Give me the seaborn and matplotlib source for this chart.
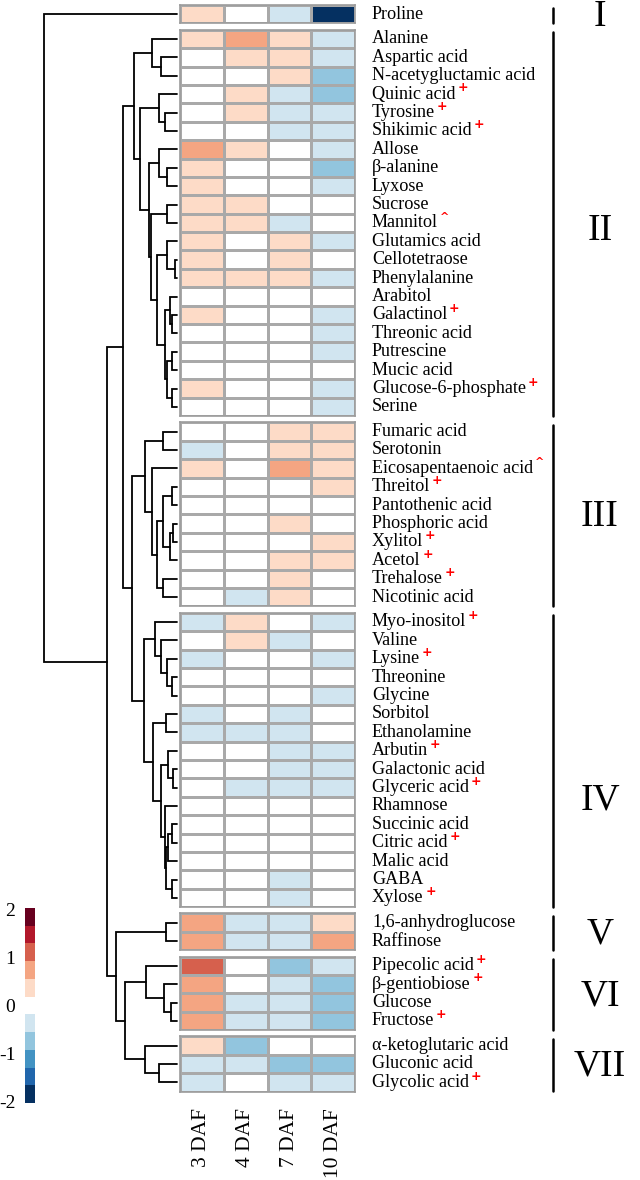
import numpy as np
import pandas as pd
import matplotlib
matplotlib.use("Agg")
import matplotlib.pyplot as plt
from matplotlib.colors import ListedColormap
import seaborn as sns

# ---- data ----
metabolites = ['Proline',
    'Alanine', 'Aspartic acid', 'N-acetygluctamic acid', 'Quinic acid', 'Tyrosine',
    'Shikimic acid', 'Allose', 'β-alanine', 'Lyxose', 'Sucrose', 'Mannitol',
    'Glutamics acid', 'Cellotetraose', 'Phenylalanine', 'Arabitol', 'Galactinol',
    'Threonic acid', 'Putrescine', 'Mucic acid', 'Glucose-6-phosphate', 'Serine',
    'Fumaric acid', 'Serotonin', 'Eicosapentaenoic acid', 'Threitol', 'Pantothenic acid',
    'Phosphoric acid', 'Xylitol', 'Acetol', 'Trehalose', 'Nicotinic acid',
    'Myo-inositol', 'Valine', 'Lysine', 'Threonine', 'Glycine', 'Sorbitol',
    'Ethanolamine', 'Arbutin', 'Galactonic acid', 'Glyceric acid', 'Rhamnose',
    'Succinic acid', 'Citric acid', 'Malic acid', 'GABA', 'Xylose',
    '1,6-anhydroglucose', 'Raffinose',
    'Pipecolic acid', 'β-gentiobiose', 'Glucose', 'Fructose',
    'α-ketoglutaric acid', 'Gluconic acid', 'Glycolic acid']

marks = {'Quinic acid': '+', 'Tyrosine': '+', 'Shikimic acid': '+', 'Mannitol': '^',
         'Galactinol': '+', 'Glucose-6-phosphate': '+', 'Eicosapentaenoic acid': '^',
         'Threitol': '+', 'Xylitol': '+', 'Acetol': '+', 'Trehalose': '+',
         'Myo-inositol': '+', 'Lysine': '+', 'Arbutin': '+', 'Glyceric acid': '+',
         'Citric acid': '+', 'Xylose': '+', 'Pipecolic acid': '+', 'β-gentiobiose': '+',
         'Fructose': '+', 'Glycolic acid': '+'}

days = ['3 DAF', '4 DAF', '7 DAF', '10 DAF']

daf3 = [.4,
        .4, 0, 0, 0, 0, 0, .8, .4, .4, .4, .4, .4, .4, .4, 0, .4, 0, 0, 0, .4, 0,
        0, -.4, .4, 0, 0, 0, 0, 0, 0, 0,
        -.4, 0, -.4, 0, 0, -.4, -.4, 0, 0, 0, 0, 0, 0, 0, 0, 0,
        .8, .8,
        1.2, .8, .8, .8,
        .4, -.4, -.4]
daf4 = [0,
        .8, .4, 0, .4, .4, 0, .4, 0, 0, .4, .4, 0, 0, .4, 0, 0, 0, 0, 0, 0, 0,
        0, 0, 0, 0, 0, 0, 0, 0, 0, -.4,
        .4, .4, 0, 0, 0, 0, -.4, 0, 0, -.4, 0, 0, 0, 0, 0, 0,
        -.4, -.4,
        0, 0, -.4, -.4,
        -.8, -.4, 0]
daf7 = [-.4,
        .4, .4, .4, -.4, -.4, -.4, 0, 0, 0, 0, -.4, .4, .4, .4, 0, 0, 0, 0, 0, 0, 0,
        .4, .4, .8, 0, 0, .4, 0, .4, .4, .4,
        0, -.4, 0, 0, 0, -.4, -.4, -.4, -.4, -.4, 0, 0, 0, 0, -.4, -.4,
        -.4, -.4,
        -.8, -.4, -.4, -.4,
        0, -.8, -.4]
daf10 = [-2,
         -.4, -.4, -.8, -.8, -.4, -.4, -.4, -.8, -.4, 0, 0, -.4, 0, -.4, 0, -.4, -.4, -.4, 0, -.4, -.4,
         .4, .4, .4, .4, 0, 0, .4, .4, 0, 0,
         -.4, 0, -.4, 0, -.4, 0, 0, -.4, -.4, -.4, 0, 0, 0, 0, 0, 0,
         .4, .8,
         -.4, -.8, -.8, -.8,
         0, -.8, -.4]

group_sizes = [1, 21, 10, 16, 2, 4, 3]
group_names = ['I', 'II', 'III', 'IV', 'V', 'VI', 'VII']

# dendrogram: (left, right, merge height), leaves are row numbers
tree_II = ((1, (2, 3, 16), 25),
           ((4, (5, 6, 12), 18),
            ((7, (8, 9, 10), 18),
             ((10, 11, 10),
              ((12, (13, 14, 2), 10),
               ((15, (16, 17, 5), 7), ((18, 19, 5), (20, 21, 5), 10), 12), 20), 26), 28), 37), 43)
tree_III = ((22, 23, 14),
            (24, (((25, 26, 5), ((27, 28, 4), 29, 7), 14), (30, 31, 14), 20), 25), 32)
tree_IV = ((32, (33, (34, (35, 36, 5), 10), 16), 22),
           ((37, 38, 11),
            ((39, (40, 41, 4), 9), (42, (((43, 44, 5), 45, 9), (46, 47, 5), 11), 12), 16), 24), 33)
tree_V = (48, 49, 11)
tree_VI = (50, (51, (52, 53, 6), 13), 31)
tree_VII = (54, (55, 56, 18), 32)
tree = (0, ((tree_II, (tree_III, tree_IV, 45), 54),
            (tree_V, (tree_VI, tree_VII, 52), 61), 70), 133)

# ---- style ----
sns.set_style('white')
plt.rcParams['font.family'] = ['Liberation Serif', 'DejaVu Serif']
plt.rcParams['axes.unicode_minus'] = False
plt.rcParams['text.color'] = 'black'
plt.rcParams['xtick.color'] = 'black'
plt.rcParams['ytick.color'] = 'black'

colors = ['#053061', '#2166ac', '#4393c3', '#92c5de', '#d1e5f0', '#ffffff',
          '#fddbc7', '#f4a582', '#d6604d', '#b2182b', '#67001f']
cmap = ListedColormap(colors)
vlim = 2.03

df = pd.DataFrame({'3 DAF': daf3, '4 DAF': daf4, '7 DAF': daf7, '10 DAF': daf10},
                  index=metabolites)

W, H = 640, 1180
fig = plt.figure(figsize=(W / 100, H / 100), dpi=100)

row_h, gap, top0 = 18.4, 6.3, 5
hm_left, hm_w = 180, 175

# colorbar axis
cax = fig.add_axes([25 / W, 1 - 1103 / H, 10 / W, 195 / H])

leaf_y = []
tops = []
start = 0
t = top0
axes = []
for k, n in enumerate(group_sizes):
    tops.append(t)
    ax = fig.add_axes([hm_left / W, 1 - (t + n * row_h) / H, hm_w / W, n * row_h / H])
    sub = df.iloc[start:start + n]
    sns.heatmap(sub, ax=ax, cmap=cmap, vmin=-vlim, vmax=vlim,
                linewidths=0.8, linecolor='#a9a9a9',
                xticklabels=False, yticklabels=False,
                cbar=(k == 0), cbar_ax=cax if k == 0 else None)
    for sp in ax.spines.values():
        sp.set_visible(True)
        sp.set_color('#9c9c9c')
        sp.set_linewidth(1.2)
    ytr = ax.get_yaxis_transform()
    for i, name in enumerate(sub.index):
        txt = ax.text((372 - hm_left) / hm_w, i + 0.5, name, transform=ytr,
                      ha='left', va='center', fontsize=13.1, color='black')
        if name in marks:
            m = marks[name]
            ax.annotate(m, xy=(1, 0.86), xycoords=txt, xytext=(1.2, 0),
                        textcoords='offset points', ha='left', va='center',
                        color='red', fontsize=9 if m == '+' else 8,
                        fontweight='bold', family='DejaVu Sans')
        leaf_y.append(t + (i + 0.5) * row_h)
    axes.append(ax)
    start += n
    t += n * row_h + gap
bottom = t - gap

# column labels
last = axes[-1]
last.set_xticks(np.arange(len(days)) + 0.5)
last.set_xticklabels(days, rotation=90, fontsize=15.5, color='black')
last.tick_params(axis='x', length=0, pad=12)

# colorbar style
cb = axes[0].collections[0].colorbar
cb.outline.set_visible(False)
cb.set_ticks([-2, -1, 0, 1, 2])
cb.set_ticklabels(['-2', '-1', '0', '1', '2'])
cax.yaxis.set_ticks_position('left')
cax.tick_params(length=0, labelsize=14, pad=7, labelcolor='black')

# group brackets and numerals
numeral_shift = [0, 5, 0, 38, 0, 0, 0]
for k, n in enumerate(group_sizes):
    y0 = tops[k] + 2.5
    y1 = tops[k] + n * row_h - 0.5
    fig.add_artist(plt.Line2D([553 / W, 553 / W], [1 - y0 / H, 1 - y1 / H],
                              color='black', lw=1.8))
    yc = tops[k] + n * row_h / 2 + numeral_shift[k]
    fig.text(600 / W, 1 - (yc + 12) / H, group_names[k], ha='center', va='baseline',
             fontsize=27, color='black')

# dendrogram
dax = fig.add_axes([44 / W, 1 - bottom / H, 133 / W, (bottom - top0) / H])
dax.set_xlim(133, 0)
dax.set_ylim(bottom, top0)
dax.axis('off')


def draw(node):
    if isinstance(node, int):
        return leaf_y[node], 0.0
    a, b, h = node
    ya, ha = draw(a)
    yb, hb = draw(b)
    dax.plot([ha, h, h, hb], [ya, ya, yb, yb], color='black', lw=1.3,
             clip_on=False, solid_joinstyle='miter')
    return (ya + yb) / 2, h


draw(tree)

fig.savefig('out.png', dpi=100)
